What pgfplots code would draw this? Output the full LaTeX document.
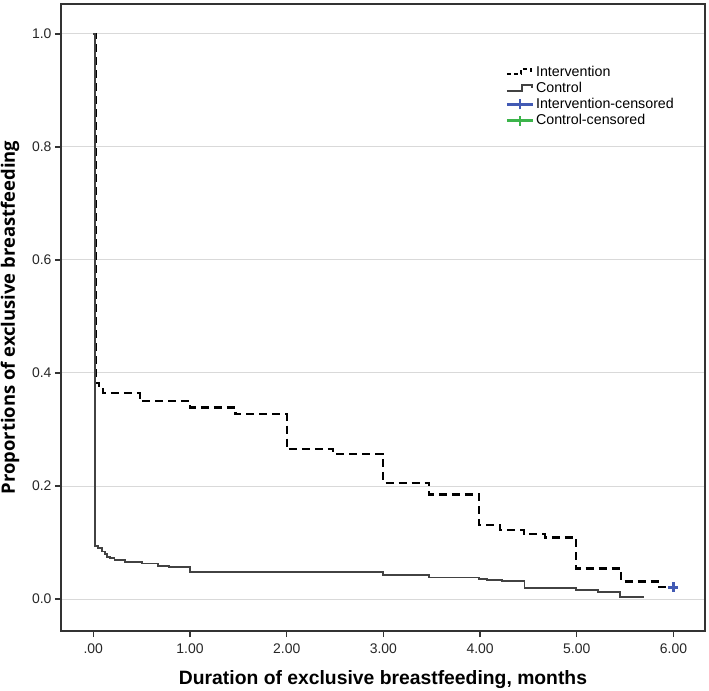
\documentclass[border=0pt]{standalone}
\usepackage{pgfplots}
\pgfplotsset{compat=1.18}
\usepackage{fontspec}
\setmainfont{Liberation Sans}
\newfontfamily\opensans{Open Sans}
\definecolor{censblue}{RGB}{66,90,180}
\definecolor{censgreen}{RGB}{60,180,75}
\definecolor{ctrlgray}{RGB}{66,66,66}

% Kaplan-Meier estimates (month, proportion)
\pgfplotstableread{
t s
0.000 1.000
0.028 0.382
0.060 0.372
0.100 0.364
0.480 0.350
1.000 0.339
1.470 0.327
2.000 0.265
2.480 0.257
3.000 0.206
3.470 0.185
3.990 0.131
4.210 0.122
4.450 0.115
4.670 0.109
4.990 0.054
5.460 0.031
5.850 0.021
6.000 0.021
}\intervention
\pgfplotstableread{
t s
0.000 1.000
0.020 0.094
0.050 0.090
0.087 0.084
0.120 0.079
0.140 0.075
0.170 0.072
0.220 0.069
0.330 0.066
0.500 0.063
0.670 0.058
0.780 0.057
1.000 0.048
3.000 0.0425
3.470 0.038
3.990 0.035
4.070 0.033
4.230 0.032
4.460 0.019
4.990 0.016
5.220 0.013
5.450 0.004
5.700 0.004
}\control

\pgfplotsset{
  leg int/.style={legend image code/.code={\draw[black, line width=2bp, dash pattern=on 4bp off 3bp] (0bp,-2bp) -- (14bp,-2bp) -- (14bp,3bp) -- (24bp,3bp) -- (24bp,0bp);}},
  leg ctl/.style={legend image code/.code={\draw[ctrlgray, line width=1.8bp] (0bp,-3bp) -- (15bp,-3bp) -- (15bp,3bp) -- (25bp,3bp) -- (25bp,0bp);}},
  leg cens blue/.style={legend image code/.code={\draw[censblue, line width=2.5bp] (0bp,0bp) -- (26bp,0bp); \draw[censblue, line width=2.5bp] (13bp,-5bp) -- (13bp,5bp);}},
  leg cens green/.style={legend image code/.code={\draw[censgreen, line width=2.5bp] (0bp,0bp) -- (26bp,0bp); \draw[censgreen, line width=2.5bp] (13bp,-5bp) -- (13bp,5bp);}},
}

\begin{document}
\begin{tikzpicture}
\useasboundingbox (-61bp,-60bp) rectangle (648bp,631bp);
\begin{axis}[
  scale only axis, width=644bp, height=627bp,
  xmin=-0.334, xmax=6.326, ymin=-0.0566, ymax=1.053,
  xtick={0,1,2,3,4,5,6},
  xticklabels={.00,1.00,2.00,3.00,4.00,5.00,6.00},
  ytick={0,0.2,0.4,0.6,0.8,1.0},
  yticklabels={0.0,0.2,0.4,0.6,0.8,1.0},
  tick align=outside, xtick pos=bottom, ytick pos=left,
  major tick length=6bp,
  ymajorgrids, grid style={draw=black!15, line width=1bp},
  axis line style={line width=1.3bp, draw=black!80},
  tick style={line width=1.2bp, draw=black!80},
  ticklabel style={font=\fontsize{14}{16}\selectfont, text=black!85},
  xticklabel style={yshift=-3bp},
  xlabel={\bfseries Duration of exclusive breastfeeding, months},
  ylabel={\opensans\bfseries Proportions of exclusive breastfeeding},
  xlabel style={at={(axis description cs:0.5,-0.078)}, anchor=center,
    font=\fontsize{19.4}{22}\selectfont},
  ylabel style={at={(axis description cs:-0.0792,0.5)}, anchor=center,
    font=\fontsize{18.5}{21}\selectfont},
  legend style={at={(axis description cs:0.69,0.905)}, anchor=north west,
    draw=none, fill=none, font=\fontsize{14.3}{17}\selectfont,
    row sep=0.5bp, inner sep=0pt},
  legend cell align=left,
]
\addplot[black, line width=2.2bp, dash pattern=on 8bp off 5bp, const plot mark left, leg int]
  table[x=t, y=s]{\intervention};
\addlegendentry{Intervention}
\addplot[ctrlgray, line width=1.8bp, const plot mark left, leg ctl]
  table[x=t, y=s]{\control};
\addlegendentry{Control}
\addplot[only marks, mark=+, mark size=5bp, censblue, line width=3bp, leg cens blue]
  coordinates {(6.0,0.021)};
\addlegendentry{Intervention-censored}
\addlegendimage{leg cens green}
\addlegendentry{Control-censored}
\end{axis}
\end{tikzpicture}
\end{document}
